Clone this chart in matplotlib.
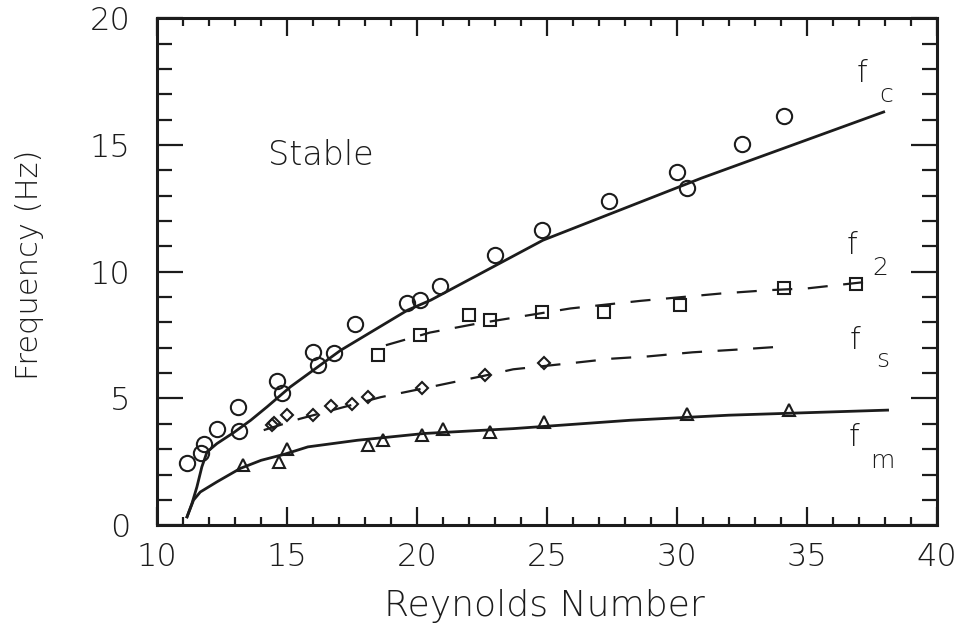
import matplotlib
import matplotlib.pyplot as plt
from matplotlib.ticker import MultipleLocator

matplotlib.use("AGG")

# values
fc_re = [11.15, 11.7, 11.8, 12.3, 13.1, 13.15, 14.6, 14.8, 16.0, 16.2, 16.8,
         17.6, 19.6, 20.1, 20.9, 23.0, 24.8, 27.4, 30.0, 30.4, 32.5, 34.1]
fc_hz = [2.45, 2.85, 3.2, 3.8, 4.65, 3.7, 5.7, 5.2, 6.85, 6.3, 6.8,
         7.95, 8.75, 8.9, 9.45, 10.65, 11.65, 12.8, 13.95, 13.3, 15.05, 16.15]
fc_fit_re = [11.15, 11.34, 11.53, 11.72, 11.92, 12.3, 12.94, 13.6, 14.23, 15.13,
             17.06, 19.63, 20.53, 24.84, 30.94, 37.95]
fc_fit_hz = [0.33, 0.86, 1.51, 2.3, 2.89, 3.22, 3.65, 4.14, 4.67, 5.46,
             6.9, 8.48, 8.88, 11.24, 13.69, 16.3]

f2_re = [18.5, 20.1, 22.0, 22.8, 24.8, 27.2, 30.1, 34.1, 36.9]
f2_hz = [6.7, 7.5, 8.3, 8.1, 8.4, 8.42, 8.68, 9.34, 9.52]
f2_fit_re = [18.8, 20.5, 22.3, 23.5, 25.9, 28.6, 31.7, 33.5, 35.0, 37.3]
f2_fit_hz = [7.1, 7.6, 7.95, 8.15, 8.55, 8.85, 9.14, 9.27, 9.34, 9.6]

fs_re = [14.4, 14.5, 15.0, 16.0, 16.7, 17.5, 18.1, 20.2, 22.6, 24.9]
fs_hz = [3.95, 4.05, 4.35, 4.35, 4.72, 4.8, 5.05, 5.4, 5.92, 6.38]
fs_fit_re = [14.1, 15.5, 16.6, 18.6, 20.5, 22.6, 23.7, 26.0, 27.5, 28.9, 30.6, 32.2, 34.1]
fs_fit_hz = [3.75, 4.2, 4.5, 5.05, 5.45, 5.9, 6.15, 6.4, 6.57, 6.66, 6.82, 6.92, 7.05]

fm_re = [13.3, 14.7, 15.0, 18.1, 18.7, 20.2, 21.0, 22.8, 24.9, 30.4, 34.3]
fm_hz = [2.37, 2.5, 3.0, 3.16, 3.35, 3.55, 3.8, 3.68, 4.08, 4.4, 4.54]
fm_fit_re = [11.15, 11.4, 11.66, 12.3, 13.2, 14.0, 14.9, 15.8, 17.7, 20.3, 23.7, 28.2, 32.0, 38.1]
fm_fit_hz = [0.33, 0.99, 1.31, 1.71, 2.24, 2.56, 2.8, 3.09, 3.35, 3.62, 3.81, 4.14, 4.34, 4.54]

ink = "#1c1c1c"
plt.rcParams["font.family"] = "DejaVu Sans"
plt.rcParams["font.weight"] = "light"
plt.rcParams["axes.labelweight"] = "light"

fig = plt.figure(figsize=(9.76, 6.26), dpi=100)
ax = fig.add_axes([0.161, 0.161, 0.799, 0.81])

# fitted curves
ax.plot(fc_fit_re, fc_fit_hz, color=ink, lw=2.0)
ax.plot(fm_fit_re, fm_fit_hz, color=ink, lw=2.0)
ax.plot(f2_fit_re, f2_fit_hz, color=ink, lw=1.6, dashes=(9, 7))
ax.plot(fs_fit_re, fs_fit_hz, color=ink, lw=1.6, dashes=(9, 7))

# measured points
ax.plot(fc_re, fc_hz, ls="none", marker="o", ms=11, mfc="none", mec=ink, mew=1.5)
ax.plot(f2_re, f2_hz, ls="none", marker="s", ms=9, mfc="none", mec=ink, mew=1.5)
ax.plot(fs_re, fs_hz, ls="none", marker="D", ms=6.5, mfc="none", mec=ink, mew=1.5)
ax.plot(fm_re, fm_hz, ls="none", marker="^", ms=9, mfc="none", mec=ink, mew=1.5)

ax.set_xlim(10, 40)
ax.set_ylim(0, 20)
ax.xaxis.set_major_locator(MultipleLocator(5))
ax.xaxis.set_minor_locator(MultipleLocator(1))
ax.yaxis.set_major_locator(MultipleLocator(5))
ax.yaxis.set_minor_locator(MultipleLocator(1))

for s in ax.spines.values():
    s.set_linewidth(2.2)
    s.set_color(ink)

ax.tick_params(which="both", direction="in", top=True, right=True, color=ink, width=1.6)
ax.tick_params(axis="x", which="major", length=13, pad=12, labelsize=23, labelcolor=ink)
ax.tick_params(axis="x", which="minor", length=6)
ax.tick_params(axis="y", which="major", length=19, pad=19, labelsize=23, labelcolor=ink)
ax.tick_params(axis="y", which="minor", length=11)

ax.set_xlabel("Reynolds Number", fontsize=26, color=ink)
ax.set_ylabel("Frequency (Hz)", fontsize=22, color=ink)
ax.xaxis.set_label_coords(0.497, -0.125)
ax.yaxis.set_label_coords(-0.145, 0.513)

ax.text(16.3, 14.6, "Stable", fontsize=24, color=ink, ha="center", va="center")

# curve labels: letter plus offset subscript, as in the scan
for f_pos, sub, sub_pos in [((37.1, 17.8), "c", (38.05, 16.95)),
                            ((36.75, 11.05), "2", (37.8, 10.15)),
                            ((36.85, 7.3), "s", (37.9, 6.5)),
                            ((36.8, 3.45), "m", (37.9, 2.55))]:
    ax.text(*f_pos, "f", fontsize=22, color=ink, ha="center", va="center")
    ax.text(*sub_pos, sub, fontsize=18, color=ink, ha="center", va="center")

fig.savefig("out.png", dpi=100)
